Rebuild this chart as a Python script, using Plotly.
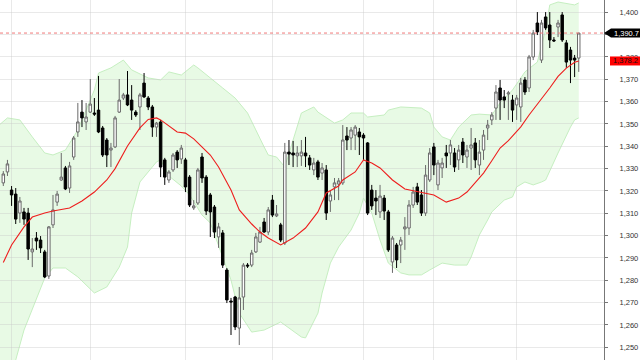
import plotly.graph_objects as go

# ---- OHLC data (one candle per trading day) ----
open_ = [1323.6, 1328.5, 1320.4, 1318.6, 1310.1, 1310.6, 1310.1, 1292.7, 1298.9, 1298.0,
         1292.7, 1281.9, 1304.8, 1315.0, 1324.9, 1330.3, 1321.3, 1335.2, 1346.4, 1355.3,
         1350.9, 1355.3, 1354.9, 1356.2, 1348.2, 1342.8, 1338.3, 1339.7, 1355.3, 1361.6,
         1363.0, 1360.7, 1355.3, 1357.6, 1368.3, 1361.6, 1357.6, 1348.6, 1350.9, 1333.9,
         1324.9, 1329.4, 1337.4, 1334.3, 1333.9, 1326.2, 1312.4, 1314.6, 1335.2, 1326.2,
         1318.2, 1312.8, 1299.4, 1301.2, 1284.6, 1270.7, 1272.5, 1258.6, 1272.5, 1286.8,
         1286.8, 1292.7, 1297.1, 1306.1, 1301.6, 1315.9, 1308.8, 1304.8, 1296.7, 1337.4,
         1337.0, 1335.7, 1335.7, 1337.0, 1334.8, 1329.4, 1333.0, 1328.0, 1329.4, 1315.5,
         1321.8, 1323.1, 1323.6, 1344.6, 1343.7, 1345.0, 1346.4, 1345.0, 1341.5, 1320.4,
         1316.8, 1310.6, 1316.8, 1310.6, 1288.2, 1295.8, 1295.8, 1303.0, 1303.4, 1313.7,
         1321.8, 1318.2, 1310.1, 1324.9, 1339.7, 1322.7, 1330.3, 1337.0, 1337.0, 1337.0,
         1333.9, 1341.9, 1335.2, 1339.2, 1341.5, 1331.6, 1338.3, 1348.2, 1351.8, 1357.1,
         1366.1, 1362.1, 1363.4, 1360.7, 1358.5, 1357.6, 1369.7, 1366.1, 1380.0, 1395.2,
         1378.6, 1397.9, 1394.3, 1387.6, 1393.4, 1398.8, 1386.3, 1383.1, 1379.5, 1379.5]
high = [1328.9, 1333.9, 1322.2, 1321.3, 1317.3, 1312.4, 1312.4, 1298.9, 1301.6, 1299.8,
        1293.6, 1304.3, 1318.2, 1320.0, 1337.0, 1331.2, 1333.0, 1344.6, 1359.4, 1360.7,
        1359.4, 1370.1, 1361.6, 1371.5, 1349.1, 1343.7, 1341.5, 1353.6, 1370.1, 1363.9,
        1373.7, 1367.4, 1356.2, 1363.9, 1372.8, 1362.5, 1358.5, 1350.9, 1351.8, 1334.8,
        1329.4, 1337.0, 1338.3, 1340.6, 1334.8, 1327.1, 1315.9, 1330.3, 1337.0, 1327.1,
        1319.1, 1313.7, 1305.7, 1302.5, 1285.5, 1272.1, 1273.0, 1277.0, 1287.7, 1287.7,
        1293.6, 1301.2, 1303.9, 1307.9, 1312.8, 1318.2, 1313.7, 1305.7, 1341.5, 1342.8,
        1342.4, 1340.1, 1342.8, 1344.2, 1336.1, 1334.8, 1333.9, 1332.5, 1331.6, 1320.4,
        1325.8, 1325.8, 1349.5, 1348.6, 1348.6, 1349.5, 1348.2, 1345.9, 1341.9, 1322.7,
        1320.4, 1322.7, 1318.2, 1311.5, 1299.8, 1296.7, 1299.4, 1308.3, 1315.9, 1321.8,
        1323.6, 1320.4, 1331.6, 1339.2, 1341.5, 1333.9, 1334.8, 1340.6, 1342.8, 1339.2,
        1340.6, 1343.7, 1340.6, 1348.2, 1343.7, 1342.8, 1347.3, 1351.8, 1355.3, 1367.4,
        1369.7, 1365.2, 1364.8, 1363.0, 1363.0, 1370.6, 1371.0, 1380.9, 1392.1, 1400.1,
        1396.6, 1400.1, 1400.1, 1388.9, 1396.6, 1400.1, 1387.6, 1384.5, 1380.9, 1390.7]
low = [1322.2, 1326.7, 1313.3, 1305.2, 1305.7, 1304.8, 1289.1, 1285.9, 1293.6, 1292.2,
       1281.0, 1280.6, 1303.4, 1313.3, 1324.5, 1320.4, 1319.1, 1333.9, 1344.2, 1348.6,
       1347.3, 1354.9, 1353.6, 1345.9, 1335.2, 1330.7, 1330.7, 1339.2, 1354.9, 1360.7,
       1358.0, 1351.8, 1353.1, 1347.3, 1361.6, 1356.2, 1344.2, 1344.2, 1326.2, 1322.7,
       1323.6, 1328.5, 1330.3, 1332.1, 1319.5, 1312.8, 1311.5, 1313.7, 1323.6, 1309.2,
       1299.4, 1298.9, 1294.5, 1285.5, 1269.8, 1255.5, 1257.7, 1251.0, 1266.7, 1285.5,
       1285.9, 1292.2, 1296.7, 1301.2, 1300.3, 1308.3, 1308.3, 1297.1, 1295.8, 1331.6,
       1330.7, 1330.7, 1331.2, 1330.7, 1329.4, 1327.1, 1324.9, 1324.9, 1307.0, 1310.6,
       1315.9, 1315.9, 1322.7, 1338.3, 1338.3, 1338.3, 1336.1, 1333.9, 1309.2, 1311.5,
       1309.2, 1307.9, 1307.0, 1292.7, 1283.3, 1285.5, 1287.7, 1293.6, 1300.3, 1312.4,
       1313.7, 1308.8, 1308.8, 1324.0, 1327.1, 1320.4, 1325.8, 1330.3, 1331.6, 1328.5,
       1329.4, 1332.5, 1330.3, 1329.4, 1330.3, 1327.1, 1333.9, 1342.8, 1349.5, 1351.8,
       1351.8, 1357.1, 1351.8, 1350.9, 1351.8, 1350.9, 1363.0, 1364.3, 1378.6, 1389.8,
       1377.3, 1392.1, 1384.0, 1386.7, 1388.9, 1386.7, 1375.1, 1368.3, 1371.0, 1373.3]
close = [1327.6, 1332.1, 1318.2, 1307.4, 1315.5, 1307.4, 1294.0, 1294.0, 1297.6, 1294.5,
         1281.5, 1303.9, 1311.5, 1318.6, 1326.2, 1320.9, 1331.2, 1343.7, 1350.9, 1352.7,
         1353.1, 1358.9, 1354.4, 1346.4, 1336.1, 1336.1, 1339.2, 1352.7, 1360.7, 1363.0,
         1358.5, 1356.2, 1354.0, 1363.0, 1362.1, 1357.6, 1348.6, 1350.4, 1330.7, 1326.2,
         1328.5, 1336.1, 1333.9, 1339.2, 1321.8, 1313.7, 1313.3, 1329.4, 1325.8, 1311.0,
         1310.6, 1301.6, 1303.9, 1286.8, 1271.2, 1270.3, 1259.1, 1272.1, 1286.8, 1286.4,
         1292.2, 1299.4, 1301.6, 1301.6, 1311.5, 1309.2, 1309.7, 1298.0, 1337.4, 1336.5,
         1336.1, 1337.0, 1337.4, 1335.7, 1331.6, 1332.5, 1326.2, 1330.3, 1310.1, 1318.2,
         1323.6, 1324.5, 1342.8, 1342.8, 1347.3, 1348.6, 1344.2, 1343.7, 1310.1, 1313.3,
         1315.5, 1317.7, 1311.0, 1293.6, 1298.9, 1289.1, 1298.0, 1303.9, 1313.7, 1319.5,
         1315.0, 1310.1, 1327.1, 1337.0, 1331.6, 1332.5, 1332.5, 1335.7, 1340.6, 1330.7,
         1338.3, 1336.1, 1338.3, 1340.6, 1333.9, 1337.4, 1345.0, 1349.5, 1354.0, 1364.3,
         1360.7, 1360.7, 1363.9, 1356.2, 1361.6, 1368.3, 1364.3, 1380.0, 1390.7, 1391.2,
         1395.2, 1393.0, 1387.6, 1387.2, 1395.2, 1387.6, 1377.7, 1378.6, 1378.6, 1390.7]
day_idx = list(range(len(close)))

# ---- 20-day moving average (read at sample days) ----
ma_idx = [0, 2, 5, 7, 10, 12, 16, 19, 22, 25, 27, 30, 33, 35, 37, 38, 42, 44, 46, 48,
          50, 52, 54, 55, 57, 60, 62, 64, 67, 70, 73, 76, 78, 81, 82, 85, 87, 89, 91, 94,
          97, 101, 104, 107, 110, 112, 114, 116, 118, 120, 122, 125, 127, 130, 132, 134,
          136, 138, 139]
ma_val = [1288.0, 1295.8, 1303.9, 1308.3, 1310.1, 1311.0, 1312.4, 1315.5, 1319.5, 1324.9,
          1330.0, 1340.1, 1348.2, 1352.0, 1352.7, 1351.8, 1346.4, 1345.9, 1343.3, 1339.7,
          1336.1, 1330.7, 1323.5, 1320.4, 1311.5, 1305.2, 1301.6, 1298.9, 1295.8, 1298.9,
          1303.4, 1310.6, 1319.1, 1322.2, 1324.9, 1328.5, 1333.9, 1332.5, 1330.3, 1324.9,
          1320.9, 1319.5, 1318.2, 1315.0, 1316.8, 1319.5, 1324.0, 1328.0, 1333.5, 1339.2,
          1342.5, 1348.7, 1354.0, 1361.0, 1366.1, 1371.3, 1375.0, 1377.6, 1378.2]

# ---- Bollinger bands (read at sample days) ----
upper_idx = [-1, 1, 4, 7, 10, 12, 15, 18, 22, 23, 26, 29, 31, 35, 38, 40, 43, 46, 47, 50,
             53, 56, 59, 61, 63, 64, 66, 68, 70, 72, 75, 76, 80, 82, 84, 87, 88, 92, 93,
             96, 101, 103, 104, 106, 108, 110, 113, 115, 118, 120, 123, 126, 129, 131,
             132, 134, 138, 139]
upper_val = [1349.5, 1352.7, 1351.8, 1344.2, 1337.0, 1336.1, 1338.3, 1347.3, 1365.2, 1372.8,
             1375.1, 1378.6, 1374.2, 1370.6, 1369.7, 1373.3, 1371.9, 1376.4, 1375.1, 1370.6,
             1366.1, 1361.6, 1354.9, 1347.3, 1339.7, 1336.1, 1335.2, 1330.7, 1342.8, 1354.9,
             1357.6, 1355.3, 1350.4, 1351.8, 1354.9, 1354.9, 1353.1, 1354.0, 1356.2, 1357.6,
             1357.1, 1354.9, 1348.6, 1344.2, 1342.8, 1348.6, 1354.0, 1354.4, 1354.0, 1359.4,
             1365.2, 1373.3, 1377.7, 1392.1, 1403.3, 1404.6, 1403.3, 1404.2]
lower_idx = [-1, 3, 5, 10, 12, 15, 18, 22, 25, 28, 30, 31, 33, 35, 37, 38, 40, 43, 45, 48,
             50, 53, 55, 57, 60, 63, 67, 72, 73, 76, 77, 79, 81, 84, 86, 87, 89, 91, 93,
             96, 98, 101, 103, 106, 109, 112, 113, 115, 117, 118, 121, 123, 124, 126, 128,
             130, 131, 134, 137, 138, 139]
lower_val = [1226.0, 1244.3, 1257.7, 1281.0, 1285.5, 1285.5, 1281.5, 1274.3, 1277.0, 1285.9,
             1294.9, 1310.1, 1324.0, 1328.5, 1333.0, 1333.9, 1326.7, 1322.2, 1318.2, 1309.2,
             1305.7, 1290.4, 1280.1, 1265.3, 1256.8, 1257.7, 1261.3, 1254.6, 1254.2, 1265.3,
             1274.3, 1287.7, 1294.9, 1302.5, 1310.1, 1316.8, 1310.1, 1298.0, 1287.7, 1283.3,
             1282.4, 1282.4, 1284.6, 1287.7, 1286.8, 1286.8, 1290.4, 1300.3, 1307.0, 1310.6,
             1315.9, 1317.3, 1321.8, 1324.0, 1322.7, 1324.0, 1324.9, 1337.0, 1348.6, 1351.8,
             1352.7]

month_start_idx = [2, 21, 44, 65, 87, 104, 124]
y_ticks = list(range(1250, 1401, 10))
last_close = 1390.7
last_ma = 1378.2

Y_MIN, Y_MAX = 1244.3, 1405.5
X_MIN, X_MAX = -0.8, 145.1
W, H, MR = 640, 360, 36
PLOT_W = W - MR

# the tick label that sits fully under the last-price tag is not visible
y_ticktext = ["" if abs(t - last_close) < 3 else f"{t:,}" for t in y_ticks]


def py(v):
    return (v - Y_MIN) / (Y_MAX - Y_MIN)


def px(p):
    return p / PLOT_W


def pts(xs, ys):
    return " L ".join(f"{x},{y}" for x, y in zip(xs, ys))


fig = go.Figure()

fig.add_trace(go.Candlestick(
    x=day_idx, open=open_, high=high, low=low, close=close,
    increasing=dict(line=dict(color="#6a6a6a", width=1), fillcolor="#ffffff"),
    decreasing=dict(line=dict(color="#000000", width=1), fillcolor="#000000"),
    whiskerwidth=0, showlegend=False))

fig.add_trace(go.Scatter(x=ma_idx, y=ma_val, mode="lines",
                         line=dict(color="#ee1d1d", width=1.1),
                         hoverinfo="skip", showlegend=False))

# Bollinger band drawn underneath the candles (data coordinates)
band_path = ("M " + pts(upper_idx, upper_val) + " L "
             + pts(lower_idx[::-1], lower_val[::-1]) + " Z")
shapes = [
    dict(type="path", xref="x", yref="y", path=band_path,
         fillcolor="#e8fae5", line=dict(width=0), layer="below"),
    dict(type="path", xref="x", yref="y", path="M " + pts(upper_idx, upper_val),
         line=dict(color="#c6efc1", width=1), layer="below"),
    dict(type="path", xref="x", yref="y", path="M " + pts(lower_idx, lower_val),
         line=dict(color="#c6efc1", width=1), layer="below"),
    dict(type="line", xref="paper", yref="y", x0=0, x1=1, y0=last_close, y1=last_close,
         line=dict(color="#f07878", width=1, dash="dot"), layer="above"),
]
h = 4.5 / H
yc = py(last_close)
shapes.append(dict(type="path", xref="paper", yref="paper",
                   path=f"M {px(PLOT_W)},{yc} L {px(PLOT_W + 7)},{yc + h} L {px(W)},{yc + h} "
                        f"L {px(W)},{yc - h} L {px(PLOT_W + 7)},{yc - h} Z",
                   fillcolor="#000000", line=dict(width=0), layer="above"))
ym = py(last_ma)
shapes.append(dict(type="rect", xref="paper", yref="paper",
                   x0=px(PLOT_W + 6), x1=px(W), y0=ym - h, y1=ym + h,
                   fillcolor="#ff0000", line=dict(width=0), layer="above"))

annotations = [
    dict(xref="paper", yref="paper", x=px(PLOT_W + 8), y=yc, text=f"{last_close:,.1f}",
         showarrow=False, xanchor="left", yanchor="middle",
         font=dict(family="Liberation Sans", size=7.5, color="#ffffff")),
    dict(xref="paper", yref="paper", x=px(PLOT_W + 7), y=ym, text=f"{last_ma:,.1f}",
         showarrow=False, xanchor="left", yanchor="middle",
         font=dict(family="Liberation Sans", size=7.5, color="#111111")),
]

fig.update_layout(
    width=W, height=H,
    margin=dict(l=0, r=MR, t=0, b=0),
    paper_bgcolor="#ffffff", plot_bgcolor="rgba(0,0,0,0)",
    shapes=shapes, annotations=annotations,
    boxgap=0.15,
    font=dict(family="Liberation Sans", size=7.5, color="#333333"),
    xaxis=dict(range=[X_MIN, X_MAX], rangeslider=dict(visible=False),
               tickvals=month_start_idx, showticklabels=False, ticks="",
               showgrid=True, gridcolor="rgba(200,200,200,0.4)", gridwidth=1,
               zeroline=False, showline=False, layer="above traces"),
    yaxis=dict(range=[Y_MIN, Y_MAX], side="right", tickvals=y_ticks, ticktext=y_ticktext,
               showgrid=True, gridcolor="rgba(200,200,200,0.4)", gridwidth=1,
               zeroline=False, showline=True, linecolor="#777777", linewidth=1,
               ticks="outside", ticklen=3, tickcolor="#777777",
               ticklabelstandoff=10,
               tickfont=dict(family="Liberation Sans", size=7.5, color="#333333")),
)

fig.write_html("out.html")
